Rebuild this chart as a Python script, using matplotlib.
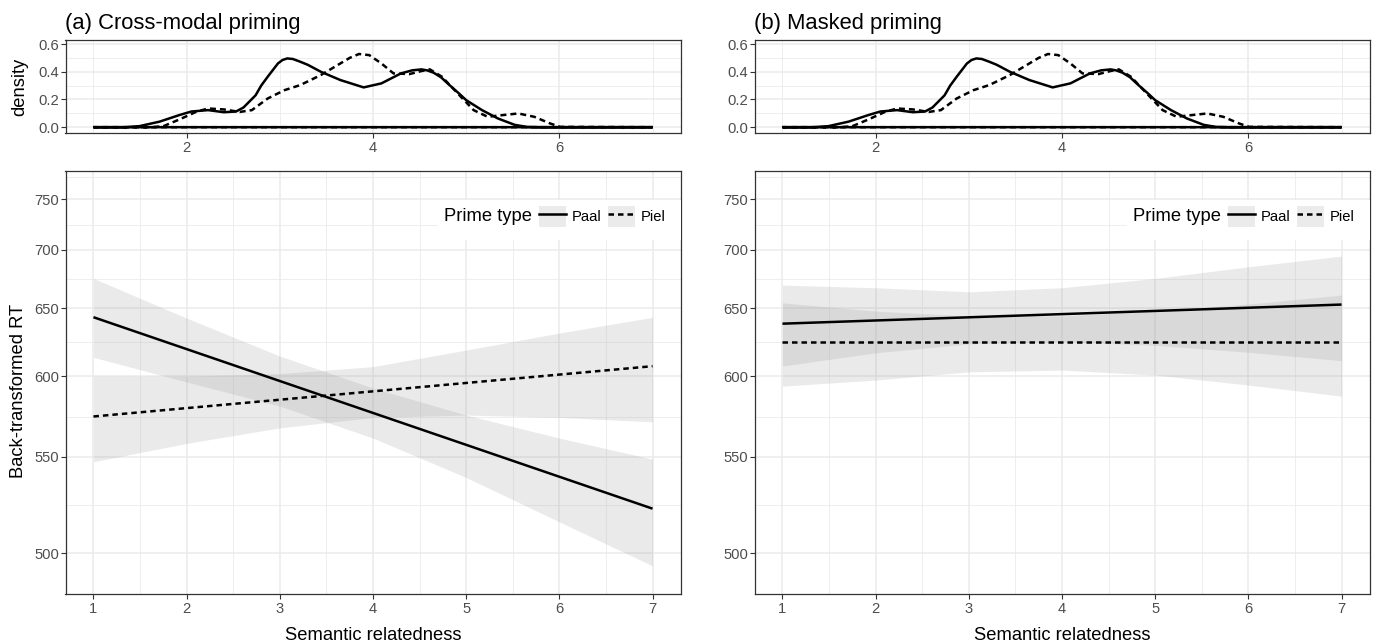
import numpy as np
import matplotlib
matplotlib.use('Agg')
import matplotlib.pyplot as plt
from matplotlib.patches import Patch, Rectangle
from matplotlib.lines import Line2D
from matplotlib.legend_handler import HandlerTuple

plt.rcParams['font.family'] = ['Liberation Sans', 'DejaVu Sans']

# density of semantic relatedness ratings (same items in both experiments)
dens_x_paal = [1.0, 1.34, 1.49, 1.71, 1.92, 2.05, 2.23, 2.40, 2.53, 2.61, 2.74, 2.80, 2.87,
               2.98, 3.03, 3.08, 3.14, 3.22, 3.30, 3.44, 3.65, 3.90, 4.09, 4.30, 4.42, 4.52,
               4.58, 4.65, 4.73, 4.82, 4.92, 5.00, 5.17, 5.34, 5.52, 5.65, 5.80, 7.0]
dens_y_paal = [0, 0, 0.007, 0.04, 0.087, 0.113, 0.123, 0.108, 0.113, 0.142, 0.23, 0.30, 0.364,
               0.46, 0.485, 0.496, 0.492, 0.472, 0.45, 0.40, 0.34, 0.287, 0.316, 0.388, 0.41, 0.417,
               0.41, 0.393, 0.36, 0.304, 0.245, 0.195, 0.123, 0.063, 0.017, 0.002, 0, 0]
dens_x_piel = [1.0, 1.62, 1.75, 1.92, 2.10, 2.23, 2.40, 2.57, 2.70, 2.87, 3.05, 3.22, 3.44,
               3.65, 3.75, 3.85, 3.96, 4.09, 4.22, 4.39, 4.52, 4.61, 4.74, 4.91, 5.08, 5.23,
               5.39, 5.56, 5.73, 5.90, 6.01, 7.0]
dens_y_piel = [0, 0, 0.007, 0.055, 0.11, 0.135, 0.128, 0.11, 0.123, 0.207, 0.267, 0.304, 0.376,
               0.46, 0.50, 0.528, 0.52, 0.46, 0.388, 0.383, 0.405, 0.417, 0.364, 0.243, 0.123, 0.075,
               0.087, 0.099, 0.075, 0.027, 0.002, 0]

# model predictions (back-transformed RT)
fit_x = [1, 7]
band_x = [1, 2, 3, 4, 5, 6, 7]

cm_paal_fit = [643, 522]
cm_paal_lo = [613.2, 596.2, 580.5, 560.9, 538.5, 515.3, 494.2]
cm_paal_hi = [674.7, 642.3, 614.1, 592.2, 574.9, 560.9, 548.7]
cm_piel_fit = [574, 607]
cm_piel_lo = [547.2, 557.8, 567.0, 573.4, 574.9, 573.4, 570.7]
cm_piel_hi = [600.2, 600.2, 601.9, 606.7, 618.4, 630.9, 642.9]

mp_paal_fit = [638, 653]
mp_paal_lo = [607.1, 616.4, 622.9, 624.6, 621.8, 616.8, 610.8]
mp_paal_hi = [669.0, 666.8, 663.4, 666.8, 674.7, 684.8, 694.4]
mp_piel_fit = [624, 624]
mp_piel_lo = [593.5, 597.5, 603.1, 604.3, 600.9, 594.2, 586.9]
mp_piel_hi = [654.4, 647.8, 643.9, 643.9, 647.8, 653.4, 660.7]

rt_ticks = [500, 550, 600, 650, 700, 750]
titles = ['(a) Cross-modal priming', '(b) Masked priming']

DASH_MAIN = (0, (2.2, 1.6))
DASH_DENS = (0, (2.4, 1.6))
GRID = '#EBEBEB'
EDGE = '#333333'
TICKC = '#4D4D4D'


def inv(v):
    v = np.asarray(v, dtype=float)
    with np.errstate(divide='ignore', invalid='ignore'):
        return -1000.0 / v


def style(ax):
    ax.set_axisbelow(True)
    ax.grid(which='major', color=GRID, lw=1.1)
    ax.grid(which='minor', color=GRID, lw=0.6)
    for s in ax.spines.values():
        s.set_color(EDGE)
        s.set_linewidth(0.9)
    ax.tick_params(which='major', length=3.3, width=0.8, color=EDGE,
                   labelcolor=TICKC, labelsize=10.6)
    ax.tick_params(axis='x', pad=2.5)
    ax.tick_params(axis='y', pad=1.5)
    ax.tick_params(which='minor', length=0)


W, H = 1373, 644
fig = plt.figure(figsize=(W / 100, H / 100), dpi=100)

panels = [
    (65.5, cm_paal_fit, cm_paal_lo, cm_paal_hi, cm_piel_fit, cm_piel_lo, cm_piel_hi),
    (754.5, mp_paal_fit, mp_paal_lo, mp_paal_hi, mp_piel_fit, mp_piel_lo, mp_piel_hi),
]
pw = 615.0

for i, (left, pa_fit, pa_lo, pa_hi, pi_fit, pi_lo, pi_hi) in enumerate(panels):
    # density panel
    axd = fig.add_axes([left / W, 1 - 133 / H, pw / W, 93 / H])
    axd.fill(dens_x_paal, dens_y_paal, fill=False, edgecolor='black', lw=1.8, zorder=3)
    axd.fill(dens_x_piel, dens_y_piel, fill=False, edgecolor='black', lw=1.8,
             linestyle=DASH_DENS, zorder=3)
    axd.set_xlim(0.7, 7.3)
    axd.set_ylim(-0.042, 0.629)
    axd.set_xticks([2, 4, 6])
    axd.set_xticks([1, 3, 5, 7], minor=True)
    axd.set_yticks([0, 0.2, 0.4, 0.6])
    axd.set_yticklabels(['0.0', '0.2', '0.4', '0.6'])
    axd.set_yticks([0.1, 0.3, 0.5], minor=True)
    style(axd)
    if i == 0:
        axd.set_ylabel('density', fontsize=13.2)
        axd.yaxis.set_label_coords((28 - left) / pw, 0.5)

    fig.text((left - 0.5) / W, 1 - 29.3 / H, titles[i], fontsize=15.8, va='baseline')

    # main panel
    ax = fig.add_axes([left / W, 1 - 594 / H, pw / W, 423 / H])
    ax.set_yscale('function', functions=(inv, inv))
    ax.fill_between(band_x, pa_lo, pa_hi, color='#999999', alpha=0.2, lw=0, zorder=2)
    ax.fill_between(band_x, pi_lo, pi_hi, color='#999999', alpha=0.2, lw=0, zorder=2)
    ax.plot(fit_x, pa_fit, color='black', lw=1.8, solid_capstyle='butt', zorder=3)
    ax.plot(fit_x, pi_fit, color='black', lw=1.8, linestyle=DASH_MAIN, zorder=3)
    ax.set_xlim(0.7, 7.3)
    ax.set_ylim(481.6, 781.3)
    ax.set_xticks(band_x)
    ax.set_xticks([1.5, 2.5, 3.5, 4.5, 5.5, 6.5], minor=True)
    ax.set_yticks(rt_ticks)
    ax.set_yticklabels([str(t) for t in rt_ticks])
    ext = rt_ticks + [800]
    ax.set_yticks([2 / (1 / a + 1 / b) for a, b in zip(ext[:-1], ext[1:])], minor=True)
    ax.yaxis.set_minor_formatter(matplotlib.ticker.NullFormatter())
    style(ax)
    ax.set_xlabel('Semantic relatedness', fontsize=13.2)
    ax.xaxis.set_label_coords(0.5, -0.079)
    if i == 0:
        ax.set_ylabel('Back-transformed RT', fontsize=13.2)
        ax.yaxis.set_label_coords((27 - left) / pw, 0.48)

    # legend
    ax.add_patch(Rectangle((0.606, 0.837), 0.394, 0.094, transform=ax.transAxes,
                           facecolor='white', edgecolor='none', zorder=4))
    ax.text(0.758, 0.892, 'Prime type', transform=ax.transAxes, ha='right', va='center',
            fontsize=13.2, zorder=6)
    key = dict(facecolor='#EBEBEB', edgecolor='none')
    handles = [(Patch(**key), Line2D([], [], color='black', lw=1.8)),
               (Patch(**key), Line2D([], [], color='black', lw=1.8, linestyle=DASH_MAIN))]
    ax.legend(handles, ['Paal', 'Piel'], handler_map={tuple: HandlerTuple(ndivide=1, pad=0)},
              ncol=2, frameon=False, loc='center right', bbox_to_anchor=(0.976, 0.892),
              borderpad=0, borderaxespad=0, handlelength=1.84, handleheight=1.82,
              handletextpad=0.41, columnspacing=0.43, fontsize=10.6)

fig.savefig('out.png', dpi=100)
